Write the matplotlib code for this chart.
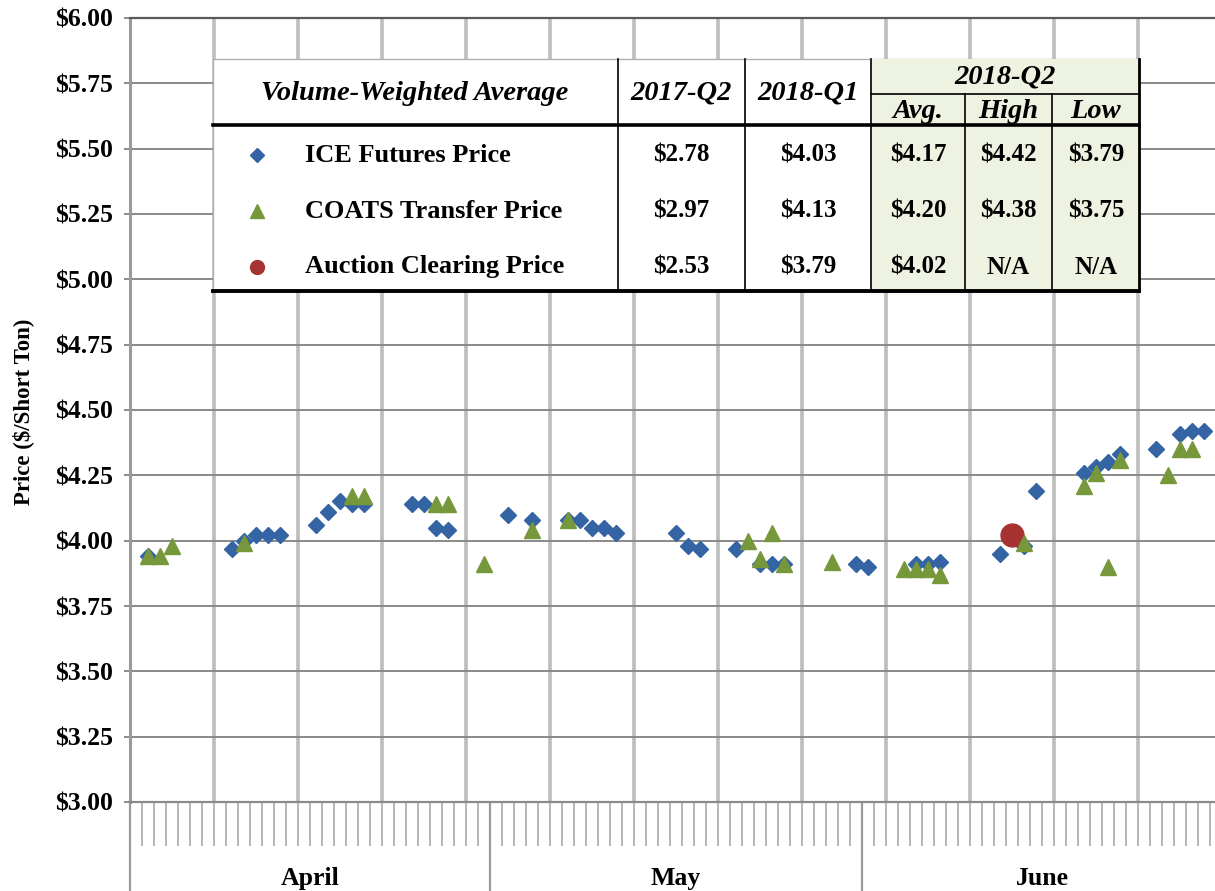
import datetime as dt
import numpy as np
import matplotlib
matplotlib.use("Agg")
import matplotlib.pyplot as plt
from matplotlib.patches import Rectangle
from matplotlib.transforms import blended_transform_factory

plt.rcParams["font.family"] = ["Liberation Serif", "DejaVu Serif"]
plt.rcParams["font.weight"] = "bold"

# daily prices, 2018-Q2 (month-day)
ice_dates = ["04-02", "04-09", "04-10", "04-11", "04-12", "04-13", "04-16", "04-17",
             "04-18", "04-19", "04-20", "04-24", "04-25", "04-26", "04-27", "05-02",
             "05-04", "05-07", "05-08", "05-09", "05-10", "05-11", "05-16", "05-17",
             "05-18", "05-21", "05-23", "05-24", "05-25", "05-31", "06-01", "06-05",
             "06-06", "06-07", "06-12", "06-14", "06-15", "06-19", "06-20", "06-21",
             "06-22", "06-25", "06-27", "06-28", "06-29"]
ice_prices = [3.94, 3.97, 4.00, 4.02, 4.02, 4.02, 4.06, 4.11,
              4.15, 4.14, 4.14, 4.14, 4.14, 4.05, 4.04, 4.10,
              4.08, 4.08, 4.08, 4.05, 4.05, 4.03, 4.03, 3.98,
              3.97, 3.97, 3.91, 3.91, 3.91, 3.91, 3.90, 3.91,
              3.91, 3.92, 3.95, 3.98, 4.19, 4.26, 4.28, 4.30,
              4.33, 4.35, 4.41, 4.42, 4.42]

coats_dates = ["04-02", "04-03", "04-04", "04-10", "04-19", "04-20", "04-26", "04-27",
               "04-30", "05-04", "05-07", "05-22", "05-23", "05-24", "05-25", "05-29",
               "06-04", "06-05", "06-06", "06-07", "06-14", "06-19", "06-20", "06-21",
               "06-22", "06-26", "06-27", "06-28"]
coats_prices = [3.94, 3.94, 3.98, 3.99, 4.17, 4.17, 4.14, 4.14,
                3.91, 4.04, 4.08, 4.00, 3.93, 4.03, 3.91, 3.92,
                3.89, 3.89, 3.89, 3.87, 3.99, 4.21, 4.26, 3.90,
                4.31, 4.25, 4.35, 4.35]

auction_dates = ["06-13"]
auction_prices = [4.02]

months = ["April", "May", "June"]
yticks = np.arange(3.0, 6.01, 0.25)

# summary table
table_header = ["Volume-Weighted Average", "2017-Q2", "2018-Q1"]
q2_header = "2018-Q2"
q2_sub = ["Avg.", "High", "Low"]
row_names = ["ICE Futures Price", "COATS Transfer Price", "Auction Clearing Price"]
row_values = [["$2.78", "$4.03", "$4.17", "$4.42", "$3.79"],
              ["$2.97", "$4.13", "$4.20", "$4.38", "$3.75"],
              ["$2.53", "$3.79", "$4.02", "N/A", "N/A"]]

BLUE = "#3464a3"
GREEN = "#77983a"
RED = "#a63331"

start = dt.date(2018, 4, 1)


def to_x(dates):
    return [(dt.date(2018, int(d[:2]), int(d[3:])) - start).days + 0.5 for d in dates]


month_edges = [0, 30, 61, 91]

fig = plt.figure(figsize=(12.15, 8.91), dpi=100)
W, H = 1215, 891
ax = fig.add_axes([130 / W, 89 / H, 1092 / W, 784 / H])

ax.set_xlim(0, 91)
ax.set_ylim(3, 6)

# grid
ax.vlines(np.arange(7, 91, 7), 3, 6, color="#bdbdbd", lw=2.6, zorder=0.5)
ax.set_yticks(yticks)
ax.set_yticklabels(["${:.2f}".format(v) for v in yticks], fontsize=18.5)
ax.yaxis.grid(True, color="#8a8a8a", lw=1.4, zorder=0.6)
ax.set_axisbelow(True)

ax.plot(to_x(ice_dates), ice_prices, "D", color=BLUE, ms=8, mec=BLUE, zorder=3)
ax.plot(to_x(auction_dates), auction_prices, "o", color=RED, ms=16.5, zorder=3.5)
ax.plot(to_x(coats_dates), coats_prices, "^", color=GREEN, ms=11.5, zorder=4)

ax.spines["right"].set_visible(False)
ax.spines["top"].set_color("#5a5a5a")
ax.spines["top"].set_linewidth(1.6)
ax.spines["left"].set_color("#9a9a9a")
ax.spines["left"].set_linewidth(2.2)
ax.spines["bottom"].set_color("#8a8a8a")
ax.spines["bottom"].set_linewidth(1.6)

ax.tick_params(axis="y", length=4.5, color="#8a8a8a", width=1.4, pad=8)
ax.set_xticks(month_edges)
ax.set_xticklabels([])
ax.set_xticks(np.arange(0, 92), minor=True)
ax.tick_params(axis="x", which="major", length=66, color="#9a9a9a", width=1.6)
ax.tick_params(axis="x", which="minor", length=32, color="#b0b0b0", width=1.3)

tr = blended_transform_factory(ax.transData, ax.transAxes)
for i, m in enumerate(months):
    ax.text((month_edges[i] + month_edges[i + 1]) / 2, -0.097, m, transform=tr,
            ha="center", va="center", fontsize=18.5, fontweight="bold")

fig.text(23 / W, 1 - 412 / H, "Price ($/Short Ton)", rotation=90, ha="center",
         va="center", fontsize=16.5, fontweight="bold")

# table overlay, in figure pixels
tax = fig.add_axes([0, 0, 1, 1], zorder=5)
tax.set_xlim(0, W)
tax.set_ylim(H, 0)
tax.axis("off")
tax.patch.set_alpha(0)

L, R, T, HB, B = 213, 1139, 59, 125, 291
cols = [618, 745, 871, 965, 1052]
tax.add_patch(Rectangle((L, T), R - L, B - T, facecolor="white", edgecolor="#b0b0b0", lw=1))
tax.add_patch(Rectangle((cols[2], T), R - cols[2], B - T, facecolor="#eef2e1", edgecolor="none"))
for c in cols[:3]:
    tax.plot([c, c], [T, B], color="black", lw=1.2)
for c in cols[3:]:
    tax.plot([c, c], [94, B], color="black", lw=1.2)
tax.plot([cols[2], R], [94, 94], color="black", lw=1.2)
tax.plot([R, R], [T, B], color="black", lw=2)
tax.plot([L, R], [HB, HB], color="black", lw=2.6)
tax.plot([L, R], [B, B], color="black", lw=2.8)

hfont = dict(fontsize=20.5, fontweight="bold", fontstyle="italic", ha="center", va="center")
tax.text(415, 93, table_header[0], **hfont)
tax.text(681, 93, table_header[1], **hfont)
tax.text(808, 93, table_header[2], **hfont)
tax.text(1005, 77, q2_header, **hfont)
val_x = [681, 808, 918, 1008, 1096]
for x, s in zip(val_x[2:], q2_sub):
    tax.text(x, 111, s, **hfont)

row_y = [155, 211, 267]
markers = [("D", BLUE, 7), ("^", GREEN, 10), ("o", RED, 10)]
for y, name, vals, (mk, col, ms) in zip(row_y, row_names, row_values, markers):
    tax.plot([257], [y], mk, color=col, ms=ms)
    tax.text(305, y, name, fontsize=19, fontweight="bold", ha="left", va="center")
    for x, v in zip(val_x, vals):
        tax.text(x, y, v, fontsize=18, fontweight="bold", ha="center", va="center")

fig.savefig("out.png", dpi=100)
